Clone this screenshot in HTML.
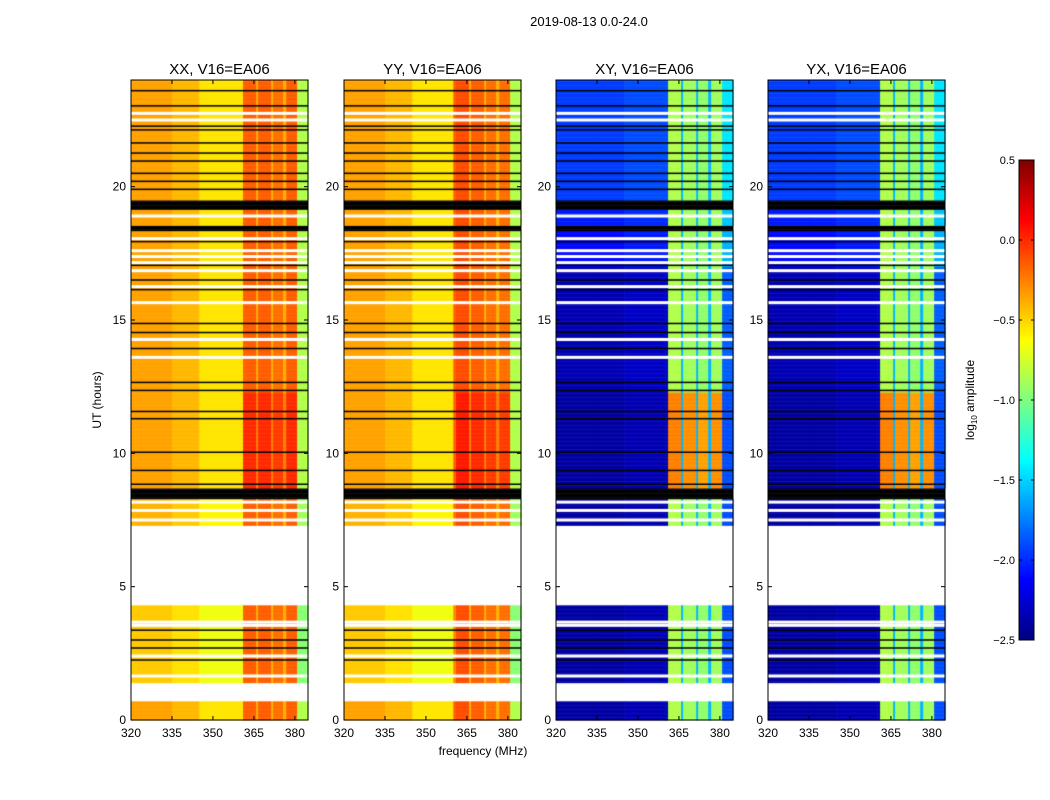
<!DOCTYPE html>
<html><head><meta charset="utf-8">
<style>
body{margin:0;background:#fff;}
#wrap{position:relative;width:1050px;height:800px;font-family:"Liberation Sans",sans-serif;}
canvas,svg{position:absolute;left:0;top:0;}
</style></head>
<body>
<div id="wrap">
<canvas id="cv" width="1050" height="800"></canvas>
<svg id="sv" width="1050" height="800"></svg>
</div>
<script>
// ---- data ----
const panelTitles = ["XX, V16=EA06","YY, V16=EA06","XY, V16=EA06","YX, V16=EA06"];
const freqEdges = [320,335,345,360,361,365.8,366.5,371.3,372,375.7,376.8,380.8,385];
const profXX = [-0.35,-0.42,-0.55,-0.55,-0.15,-0.4,-0.15,-0.4,-0.2,-0.4,-0.15,-0.85];
const profYY = [-0.35,-0.42,-0.55,-0.15,-0.1,-0.4,-0.15,-0.4,-0.2,-0.4,-0.2,-0.85];
const profXY = [-2.4,-2.4,-2.35,-2.35,-0.85,-1.6,-0.9,-1.6,-0.95,-1.6,-0.9,-1.9];
const profYX = [-2.4,-2.4,-2.35,-2.35,-0.85,-1.6,-0.9,-1.6,-0.95,-1.6,-0.9,-1.9];
// segments: start, end, kind (0 blank,1 data,2 black), coLeft, coBand, crossLeft, crossBand
const segStart = [0,0.7,1.4,4.3,7.3,8.3,8.7,12.3,17.0,18.35,18.55,19.15,19.5];
const segEnd   = [0.7,1.4,4.3,7.3,8.3,8.7,12.3,17.0,18.35,18.55,19.15,19.5,24];
const segKind  = [1,0,1,0,1,2,1,1,1,2,1,2,1];
const coLeft   = [0,0,-0.12,0,-0.05,0,0,0,0,0,0,0,0];
const coBand   = [0,0,0,0,0,0,0.15,0,0,0,0,0,0];
const crLeft   = [0,0,0,0,0,0,0,0.05,0.3,0,0.35,0,0.45];
const crBand   = [0,0,0,0,0,0,0.6,0,0,0,0,0,0];
const whiteLines = [1.65,2.4,3.67,3.55,7.5,7.86,8.17,13.6,14.27,15.65,16.25,16.85,17.15,17.38,17.6,18.05,18.9,22.5,22.75];
const blackLines = [2.25,2.7,3.0,3.37,8.84,9.36,10.04,11.3,11.57,12.36,12.66,13.93,14.53,14.87,16.14,16.5,17.05,17.94,19.9,20.2,20.5,20.96,21.26,21.64,22.13,22.27,23.03,23.6];
const yTicks = [0,5,10,15,20];
const xTicks = [320,335,350,365,380];
const cbTicks = [0.5,0.0,-0.5,-1.0,-1.5,-2.0,-2.5];

// ---- layout ----
const panelX = [131,344,556,768], PW=177, PY0=80, PY1=720;
const fMin=320,fMax=384.8,tMin=0,tMax=24,vMin=-2.5,vMax=0.5;
const profs=[profXX,profYY,profXY,profYX];
function xs(p,f){return panelX[p]+(f-fMin)/(fMax-fMin)*PW;}
function ys(t){return PY1-(t-tMin)/(tMax-tMin)*(PY1-PY0);}
function jet(v){
  let x=Math.max(0,Math.min(1,(v-vMin)/(vMax-vMin)));
  const c=t=>Math.round(255*Math.max(0,Math.min(1,1.5-Math.abs(4*x-t))));
  return `rgb(${c(3)},${c(2)},${c(1)})`;
}
const ctx=document.getElementById('cv').getContext('2d');
const dt=0.05;
for(let p=0;p<4;p++){
  const cross=p>=2;
  for(let r=0;r<tMax/dt;r++){
    const t=r*dt+dt/2;
    let s=segStart.findIndex((a,i)=>t>=a&&t<segEnd[i]);
    const y0=ys(r*dt+dt), y1=ys(r*dt);
    if(segKind[s]===0) continue;
    if(segKind[s]===2){ctx.fillStyle='#000';ctx.fillRect(panelX[p],y0,PW,y1-y0+0.5);continue;}
    for(let k=0;k<profs[p].length;k++){
      const band=freqEdges[k]>=361 && freqEdges[k]<380.8;
      let v=profs[p][k]+(cross?(band?crBand[s]:crLeft[s]):(band?coBand[s]:coLeft[s]));
      if(cross && band && (k%2===1)) v=profs[p][k];
      ctx.fillStyle=jet(v);
      const xa=xs(p,freqEdges[k]), xb=Math.min(xs(p,freqEdges[k+1]),panelX[p]+PW);
      ctx.fillRect(xa,y0,xb-xa+0.5,y1-y0+0.5);
    }
  }
  ctx.fillStyle='#fff';
  whiteLines.forEach(t=>ctx.fillRect(panelX[p],ys(t)-1.5,PW,3));
  ctx.fillStyle='#000';
  blackLines.forEach(t=>ctx.fillRect(panelX[p],ys(t)-0.75,PW,1.5));
}
// colorbar
const CBX=1019,CBW=15,CBY0=160,CBY1=640;
for(let i=0;i<CBY1-CBY0;i++){ctx.fillStyle=jet(vMax-(i+0.5)/(CBY1-CBY0)*(vMax-vMin));ctx.fillRect(CBX,CBY0+i,CBW,1);}

// ---- svg ----
const sv=document.getElementById('sv'),NS='http://www.w3.org/2000/svg';
function el(tag,attrs,txt){const e=document.createElementNS(NS,tag);for(const k in attrs)e.setAttribute(k,attrs[k]);if(txt!=null)e.textContent=txt;sv.appendChild(e);return e;}
let e=el('text',{x:589,y:26,'text-anchor':'middle','font-size':13},'2019-08-13 0.0-24.0');


for(let p=0;p<4;p++){
  e=el('rect',{x:panelX[p],y:PY0,width:PW,height:PY1-PY0,fill:'none',stroke:'#000','stroke-width':1});
  
  
  e=el('text',{x:panelX[p]+PW/2,y:74,'text-anchor':'middle','font-size':15},panelTitles[p]);
  
  
  yTicks.forEach(t=>{
    el('line',{x1:panelX[p],x2:panelX[p]+4,y1:ys(t),y2:ys(t),stroke:'#000'});
    el('line',{x1:panelX[p]+PW,x2:panelX[p]+PW-4,y1:ys(t),y2:ys(t),stroke:'#000'});
    e=el('text',{x:panelX[p]-5,y:ys(t)+4,'text-anchor':'end','font-size':12},String(t));
    
    
  });
  xTicks.forEach(f=>{
    el('line',{x1:xs(p,f),x2:xs(p,f),y1:PY1,y2:PY1-4,stroke:'#000'});
    el('line',{x1:xs(p,f),x2:xs(p,f),y1:PY0,y2:PY0+4,stroke:'#000'});
    e=el('text',{x:xs(p,f),y:PY1+17,'text-anchor':'middle','font-size':12},String(f));
    
    
  });
}
e=el('text',{x:0,y:0,transform:'translate(101,400) rotate(-90)','text-anchor':'middle','font-size':12},'UT (hours)');


e=el('text',{x:483,y:755,'text-anchor':'middle','font-size':12},'frequency (MHz)');


e=el('rect',{x:CBX,y:CBY0,width:CBW,height:CBY1-CBY0,fill:'none',stroke:'#000'});


cbTicks.forEach(v=>{
  const y=CBY0+(vMax-v)/(vMax-vMin)*(CBY1-CBY0);
  el('line',{x1:CBX,x2:CBX+3,y1:y,y2:y,stroke:'#000'});
  el('line',{x1:CBX+CBW-3,x2:CBX+CBW,y1:y,y2:y,stroke:'#000'});
  e=el('text',{x:CBX-4,y:y+4,'text-anchor':'end','font-size':11},v.toFixed(1).replace('-','−'));
  
  
});
e=el('text',{x:0,y:0,transform:'translate(974,400) rotate(-90)','text-anchor':'middle','font-size':12});
e.innerHTML='log<tspan font-size="8" dy="3">10</tspan><tspan dy="-3"> amplitude</tspan>';


</script>
</body></html>
